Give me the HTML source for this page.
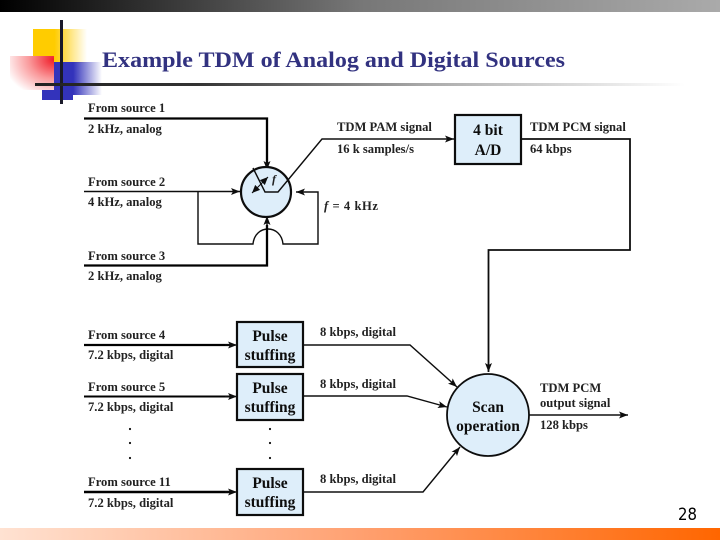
<!DOCTYPE html>
<html><head><meta charset="utf-8"><style>
html,body{margin:0;padding:0;background:#fff}
svg{display:block}
.t{font:bold 12.6px "Liberation Serif",serif;fill:#222}
.b{font:bold 15.5px "Liberation Serif",serif;fill:#111;text-anchor:middle}
.l{fill:none;stroke:#111;stroke-width:1.4}
.h{fill:none;stroke:#000;stroke-width:2.3}
.f{fill:#deeefa;stroke:#111;stroke-width:2.2}
</style></head><body>
<svg width="720" height="540" viewBox="0 0 720 540" xmlns="http://www.w3.org/2000/svg">
<defs>
<filter id="s" x="-2%" y="-2%" width="104%" height="104%"><feGaussianBlur stdDeviation="0.35"/></filter>
<linearGradient id="top"><stop offset="0" stop-color="#000"/><stop offset=".5" stop-color="#777"/><stop offset="1" stop-color="#aaa"/></linearGradient>
<linearGradient id="bot"><stop offset="0" stop-color="#ffe2d2"/><stop offset=".5" stop-color="#ffa070"/><stop offset="1" stop-color="#ff6600"/></linearGradient>
<linearGradient id="yel"><stop offset="0" stop-color="#ffcc00"/><stop offset=".4" stop-color="#ffcc00"/><stop offset="1" stop-color="#ffcc00" stop-opacity="0"/></linearGradient>
<linearGradient id="blu"><stop offset="0" stop-color="#3333bb"/><stop offset=".4" stop-color="#3333bb"/><stop offset="1" stop-color="#3333bb" stop-opacity="0"/></linearGradient>
<radialGradient id="red" cx="1" cy="0.1" r="1.15"><stop offset="0" stop-color="#f01c28"/><stop offset=".5" stop-color="#fa9a9c"/><stop offset="1" stop-color="#fff"/></radialGradient>
<linearGradient id="lin"><stop offset="0" stop-color="#222"/><stop offset=".25" stop-color="#333"/><stop offset=".6" stop-color="#aaa"/><stop offset="1" stop-color="#fff"/></linearGradient>
<marker id="a" markerWidth="10" markerHeight="8" refX="9" refY="4" orient="auto" markerUnits="userSpaceOnUse"><path d="M0 0.5L9 4L0 7.5L2 4Z" fill="#111"/></marker>
<marker id="d" markerWidth="9" markerHeight="8" refX="8" refY="4" orient="auto-start-reverse" markerUnits="userSpaceOnUse"><path d="M0 0.5L8 4L0 7.5Z" fill="#111"/></marker>
</defs>

<rect x="0" y="0" width="720" height="12" fill="url(#top)"/>
<rect x="0" y="528" width="720" height="12" fill="url(#bot)"/>

<rect x="33" y="29" width="54" height="34" fill="url(#yel)"/>
<rect x="54" y="62" width="48" height="33" fill="url(#blu)"/>
<rect x="42" y="90" width="31" height="10" fill="#3333bb"/>
<rect x="10" y="56" width="44" height="34" fill="url(#red)"/>
<rect x="60" y="20" width="3" height="84" fill="#1a1a2a"/>
<rect x="35" y="83" width="650" height="3" fill="url(#lin)"/>

<g filter="url(#s)">
<text x="102" y="67" font-family="Liberation Serif, serif" font-weight="bold" font-size="22.5" fill="#333380" textLength="463" lengthAdjust="spacingAndGlyphs">Example TDM of Analog and Digital Sources</text>

<path class="h" d="M84 118.5H267V168" />
<path class="l" d="M267 160V170" marker-end="url(#a)"/>
<path class="l" d="M84 191.5H240" marker-end="url(#a)"/>
<path class="l" d="M198 191.5V244H253C255 224 281 224 283 244H318V192H296" marker-end="url(#a)"/>
<path class="h" d="M84 265.5H267V225"/>
<path class="l" d="M267 228V216" marker-end="url(#a)"/>

<circle cx="266" cy="192" r="25" class="f"/>
<path class="l" d="M253 168L265 192H278L322 139H454" marker-end="url(#a)"/>
<path class="l" style="stroke-width:1.1" d="M252 193L268 177" marker-start="url(#d)" marker-end="url(#d)"/>
<text x="272" y="183" font-family="Liberation Serif, serif" font-style="italic" font-weight="bold" font-size="12" fill="#222">f</text>

<rect x="455" y="115" width="66" height="49" class="f"/>
<path class="l" style="stroke-width:1.8" d="M521 139H630V250H488.500V372" marker-end="url(#a)"/>

<rect x="237" y="322" width="66" height="45" class="f"/>
<rect x="237" y="374" width="66" height="46" class="f"/>
<rect x="237" y="469" width="66" height="46" class="f"/>

<path class="h" d="M84 345H232"/><path class="l" d="M225 345H237" marker-end="url(#a)"/>
<path class="h" style="stroke-width:1.9" d="M84 396.500H232"/><path class="l" d="M225 396.500H237" marker-end="url(#a)"/>
<path class="h" style="stroke-width:2.6" d="M84 492H232"/><path class="l" d="M225 492H237" marker-end="url(#a)"/>

<path class="l" d="M303 345H410L457 387" marker-end="url(#a)"/>
<path class="l" d="M303 396H407L447 407" marker-end="url(#a)"/>
<path class="l" d="M303 492H423L460 447" marker-end="url(#a)"/>

<circle cx="488" cy="415" r="41" class="f" style="stroke-width:1.8"/>
<path class="l" d="M529 415H628" marker-end="url(#a)"/>

<text class="t" x="88" y="112">From source 1</text>
<text class="t" x="88" y="133">2 kHz, analog</text>
<text class="t" x="88" y="186">From source 2</text>
<text class="t" x="88" y="206">4 kHz, analog</text>
<text class="t" x="88" y="260">From source 3</text>
<text class="t" x="88" y="280">2 kHz, analog</text>
<text class="t" x="88" y="339">From source 4</text>
<text class="t" x="88" y="359">7.2 kbps, digital</text>
<text class="t" x="88" y="391">From source 5</text>
<text class="t" x="88" y="411">7.2 kbps, digital</text>
<text class="t" x="88" y="486">From source 11</text>
<text class="t" x="88" y="507">7.2 kbps, digital</text>

<text class="t" x="320" y="336">8 kbps, digital</text>
<text class="t" x="320" y="388">8 kbps, digital</text>
<text class="t" x="320" y="483">8 kbps, digital</text>

<text class="t" x="337" y="131">TDM PAM signal</text>
<text class="t" x="337" y="153">16 k samples/s</text>
<text class="t" x="530" y="131">TDM PCM signal</text>
<text class="t" x="530" y="153">64 kbps</text>
<text class="t" x="324" y="210" textLength="54"><tspan font-style="italic">f</tspan> = 4 kHz</text>
<text class="t" x="540" y="392">TDM PCM</text>
<text class="t" x="540" y="407">output signal</text>
<text class="t" x="540" y="429">128 kbps</text>

<text class="b" x="488" y="135">4 bit</text>
<text class="b" x="488" y="155">A/D</text>
<text class="b" x="270" y="341">Pulse</text>
<text class="b" x="270" y="360">stuffing</text>
<text class="b" x="270" y="393">Pulse</text>
<text class="b" x="270" y="412">stuffing</text>
<text class="b" x="270" y="488">Pulse</text>
<text class="b" x="270" y="507">stuffing</text>
<text class="b" x="488" y="412">Scan</text>
<text class="b" x="488" y="431">operation</text>

<g fill="#111">
<circle cx="130" cy="429" r="1.1"/><circle cx="130" cy="443" r="1.1"/><circle cx="130" cy="458" r="1.1"/>
<circle cx="270" cy="429" r="1.1"/><circle cx="270" cy="443" r="1.1"/><circle cx="270" cy="458" r="1.1"/>
</g>
</g>

<text x="678" y="520" font-family="DejaVu Sans, sans-serif" font-size="17" fill="#000" textLength="19" lengthAdjust="spacingAndGlyphs">28</text>
</svg>
</body></html>
